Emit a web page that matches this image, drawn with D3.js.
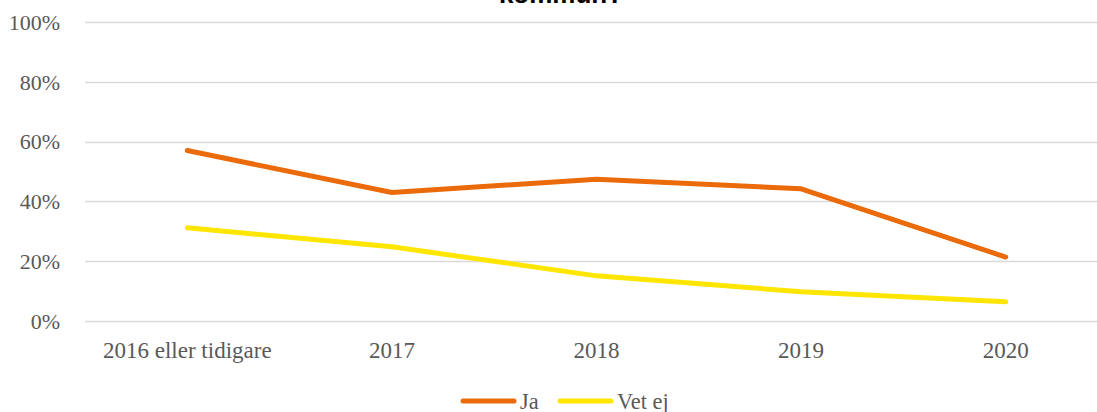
<!DOCTYPE html>
<html>
<head>
<meta charset="utf-8">
<script src="https://cdn.jsdelivr.net/npm/d3@7"></script>
<style>
  body { margin: 0; background: #fff; }
  svg { display: block; }
</style>
</head>
<body>
<div id="chart"></div>
<script>
// data
var categories = ["2016 eller tidigare", "2017", "2018", "2019", "2020"];
var ja = [0.57, 0.43, 0.474, 0.442, 0.214];
var vetEj = [0.312, 0.248, 0.151, 0.098, 0.064];
var yTicks = [0, 0.2, 0.4, 0.6, 0.8, 1.0];
var seriesNames = ["Ja", "Vet ej"];
var seriesColors = ["#eb6a0a", "#ffe600"];

var width = 1097, height = 412;
var margin = {top: 22, right: -11, bottom: 91, left: 85};
var serif = "Liberation Serif, Times New Roman, serif";

var svg = d3.select("#chart")
  .append("svg")
    .attr("width", width)
    .attr("height", height);

// title, mostly cut off at the top of the picture
svg.append("text")
    .attr("x", 561)
    .attr("y", 2.5)
    .attr("text-anchor", "middle")
    .style("font-family", "Liberation Sans, Arial, sans-serif")
    .style("font-weight", "bold")
    .style("font-size", "26px")
    .style("fill", "#000")
    .text("kommun?");

var x = d3.scaleBand()
    .domain(categories)
    .range([margin.left, width - margin.right]);

var y = d3.scaleLinear()
    .domain([0, 1])
    .range([height - margin.bottom, margin.top]);

// gridlines
svg.append("g")
    .selectAll("line")
    .data(yTicks)
    .enter()
    .append("line")
    .attr("x1", margin.left)
    .attr("x2", width)
    .attr("y1", function(d) { return Math.round(y(d)) + 0.5; })
    .attr("y2", function(d) { return Math.round(y(d)) + 0.5; })
    .attr("stroke", "#d9d9d9")
    .attr("stroke-width", 1.5);

// y axis labels
var yAxis = svg.append("g")
    .attr("transform", "translate(" + (margin.left - 22) + ",0)")
    .call(d3.axisLeft(y).tickValues(yTicks).tickFormat(d3.format(".0%")).tickSize(0));
yAxis.select(".domain").remove();
yAxis.selectAll("text")
    .attr("dy", "0.33em")
    .style("font-family", serif)
    .style("font-size", "22px")
    .style("fill", "#595959");

// x axis labels
var xAxis = svg.append("g")
    .attr("transform", "translate(0," + (height - margin.bottom) + ")")
    .call(d3.axisBottom(x).tickSize(0).tickPadding(0));
xAxis.select(".domain").remove();
xAxis.selectAll("text")
    .attr("y", 37)
    .attr("dy", 0)
    .style("font-family", serif)
    .style("font-size", "23px")
    .style("fill", "#595959");

var line = d3.line()
    .x(function(d, i) { return x(categories[i]) + x.bandwidth() / 2; })
    .y(function(d) { return y(d); });

[ja, vetEj].forEach(function(values, k) {
  svg.append("path")
      .datum(values)
      .attr("d", line)
      .attr("fill", "none")
      .attr("stroke", seriesColors[k])
      .attr("stroke-width", 5)
      .attr("stroke-linecap", "round")
      .attr("stroke-linejoin", "round");
});

// legend
var legendX = [463, 560];
var legend = svg.append("g").attr("transform", "translate(0,401)");
seriesNames.forEach(function(name, k) {
  legend.append("line")
      .attr("x1", legendX[k])
      .attr("x2", legendX[k] + 51)
      .attr("y1", 0)
      .attr("y2", 0)
      .attr("stroke", seriesColors[k])
      .attr("stroke-width", 5)
      .attr("stroke-linecap", "round");
  legend.append("text")
      .attr("x", legendX[k] + 57)
      .attr("y", 0)
      .attr("dy", "0.35em")
      .style("font-family", serif)
      .style("font-size", "22.4px")
      .style("fill", "#595959")
      .text(name);
});
</script>
</body>
</html>
